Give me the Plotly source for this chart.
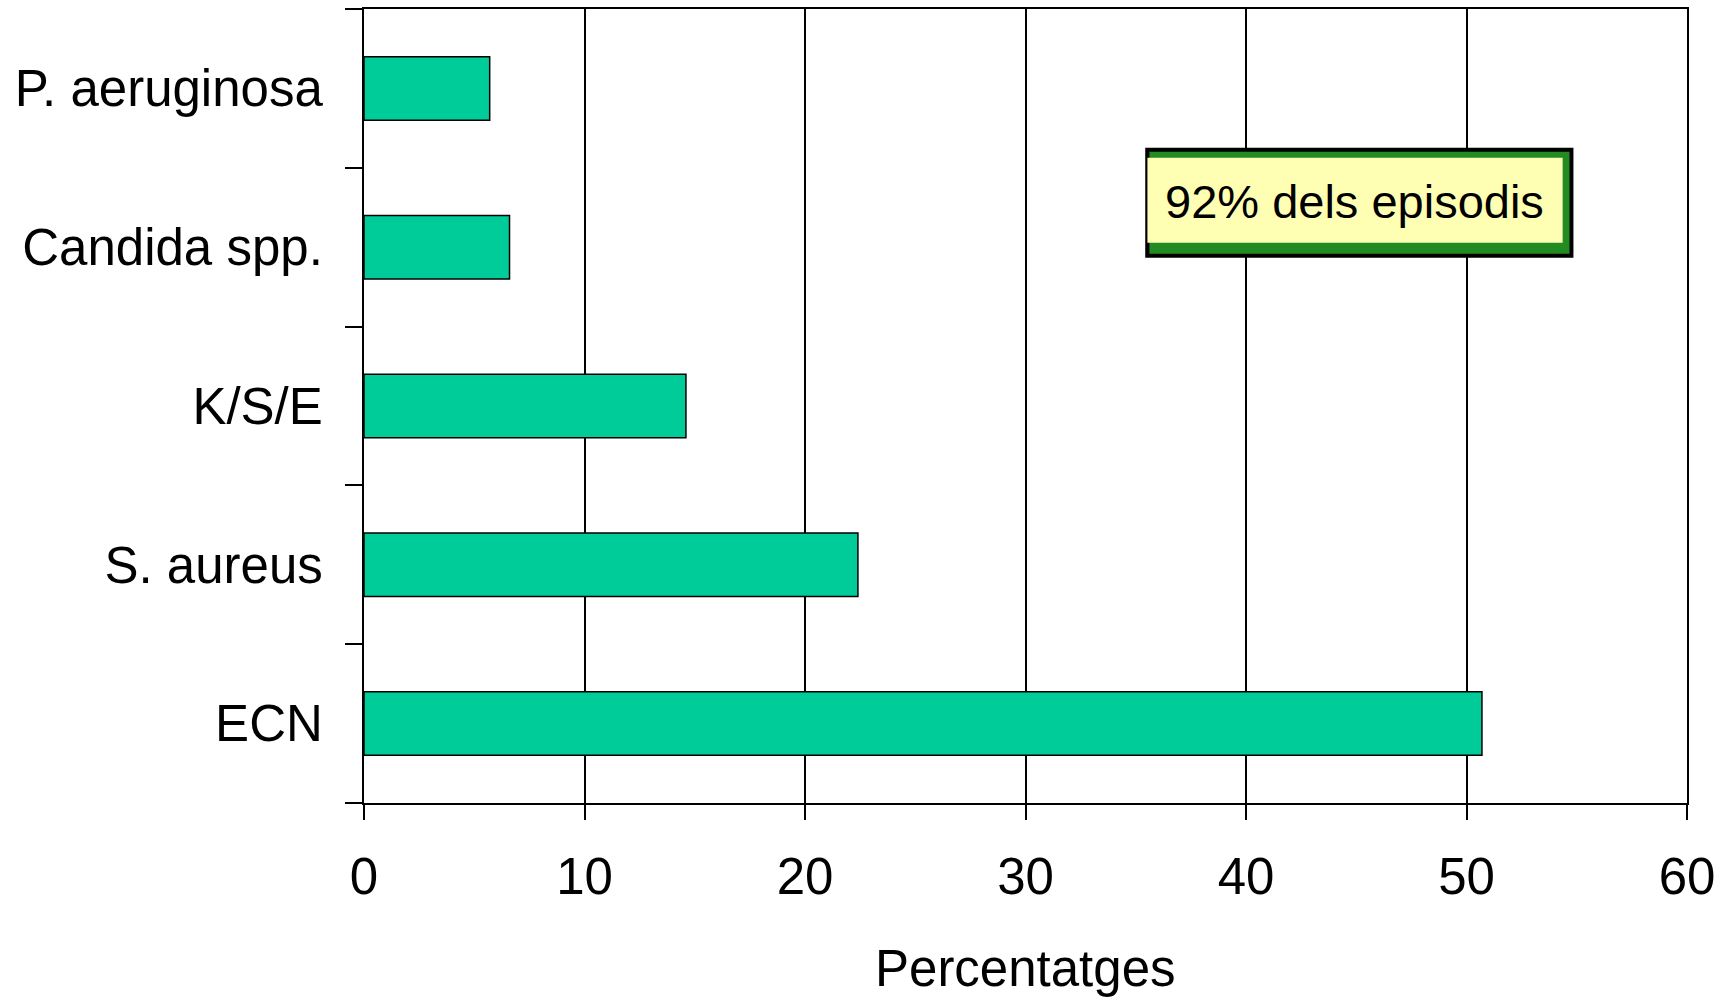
import plotly.graph_objects as go

# Share of episodes by microorganism (percent)
organisms = ["ECN", "S. aureus", "K/S/E", "Candida spp.", "P. aeruginosa"]
percentages = [50.7, 22.4, 14.6, 6.6, 5.7]

x_ticks = [0, 10, 20, 30, 40, 50, 60]
x_title = "Percentatges"
note_text = "92% dels episodis"

FONT = "Liberation Sans, Arial, sans-serif"
BAR_COLOR = "#00CC99"

fig = go.Figure(
    go.Bar(
        x=percentages,
        y=organisms,
        orientation="h",
        marker=dict(color=BAR_COLOR, line=dict(color="black", width=1.5)),
        hoverinfo="x+y",
    )
)

fig.update_layout(
    width=1726,
    height=997,
    margin=dict(l=364, r=39, t=9, b=194),
    paper_bgcolor="white",
    plot_bgcolor="white",
    bargap=0.6,
    showlegend=False,
    font=dict(family=FONT, color="black", size=51),
)

fig.update_xaxes(
    range=[0, 60],
    tickvals=x_ticks,
    ticktext=[str(v) for v in x_ticks],
    showgrid=True,
    gridcolor="black",
    gridwidth=1.5,
    zeroline=False,
    showline=True,
    linecolor="black",
    linewidth=2,
    mirror=True,
    ticks="outside",
    ticklen=15,
    tickwidth=2,
    tickcolor="black",
    tickfont=dict(family=FONT, size=51, color="black"),
    ticklabelstandoff=13,
    automargin=False,
)

fig.update_yaxes(
    type="category",
    categoryorder="array",
    categoryarray=organisms,
    showgrid=False,
    zeroline=False,
    showline=True,
    linecolor="black",
    linewidth=2,
    mirror=True,
    ticks="outside",
    tickson="boundaries",
    ticklen=17,
    tickwidth=2,
    tickcolor="black",
    tickfont=dict(family=FONT, size=51, color="black"),
    ticklabelstandoff=29,
    automargin=False,
)

# x-axis title placed under the tick labels
fig.add_annotation(
    x=0.5, y=-0.208, xref="paper", yref="paper",
    text=x_title, showarrow=False,
    font=dict(family=FONT, size=51, color="black"),
    xanchor="center", yanchor="middle",
)

# Highlight box: black frame, green shadow, pale yellow panel
fig.add_shape(type="rect", xref="x", yref="paper", x0=35.43, x1=54.85, y0=0.6868, y1=0.8253,
              fillcolor="black", line=dict(width=0), layer="above")
fig.add_shape(type="rect", xref="x", yref="paper", x0=35.62, x1=54.67, y0=0.6918, y1=0.8203,
              fillcolor="#228B22", line=dict(width=0), layer="above")
fig.add_shape(type="rect", xref="x", yref="paper", x0=35.53, x1=54.36, y0=0.7057, y1=0.8127,
              fillcolor="#FFFFB3", line=dict(width=0), layer="above")
fig.add_annotation(
    x=44.92, y=0.757, xref="x", yref="paper",
    text=note_text, showarrow=False,
    font=dict(family=FONT, size=47, color="black"),
    xanchor="center", yanchor="middle",
)

fig.write_html("out.html")
